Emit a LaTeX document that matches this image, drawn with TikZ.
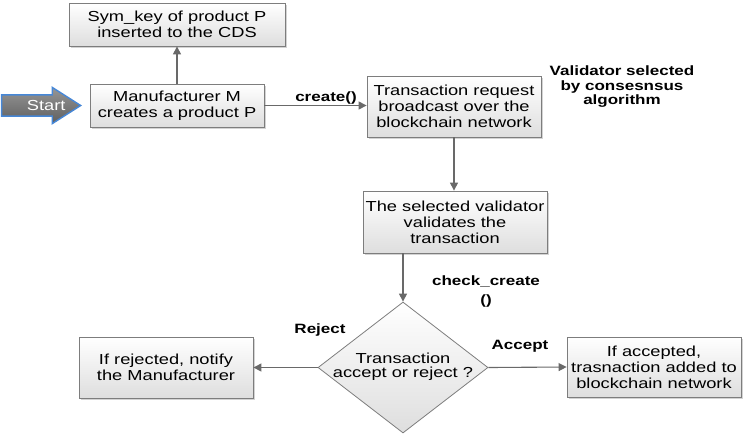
\documentclass[tikz,border=0pt]{standalone}
\usepackage{fontspec}
\setmainfont{Liberation Sans}[FakeStretch=1.26]
\usetikzlibrary{shapes.geometric,shapes.arrows,shadows,arrows.meta}
\definecolor{boxborder}{RGB}{125,125,125}
\definecolor{boxbottom}{RGB}{222,222,222}
\definecolor{conncol}{RGB}{105,105,105}
\definecolor{startblue}{RGB}{70,135,215}
\definecolor{starttop}{RGB}{150,150,150}
\definecolor{startbot}{RGB}{95,95,95}
\newcommand{\boxfont}{\fontsize{14.5}{16}\selectfont}
\newcommand{\lblfont}{\fontsize{13.5}{14.5}\selectfont\bfseries}
\tikzset{
  flowbox/.style={draw=boxborder, line width=0.8pt, top color=white, bottom color=boxbottom,
    drop shadow={shadow xshift=2pt, shadow yshift=-2pt, opacity=0.35},
    align=center, inner sep=0pt, font=\boxfont},
  decision/.style={diamond, draw=boxborder, line width=0.8pt, top color=white, bottom color=boxbottom,
    inner sep=0pt, font=\boxfont},
  conn/.style={draw=conncol, line width=1.1pt, -{Triangle[length=8pt,width=8pt]}},
  lbl/.style={font=\lblfont, align=center, inner sep=0pt},
  startarrow/.style={single arrow, draw=startblue, line width=1.4pt, top color=starttop, bottom color=startbot,
    text=white, font=\fontsize{14.5}{16}\selectfont, inner xsep=0pt, inner ysep=4.8pt,
    single arrow head extend=7.5pt, single arrow tip angle=65, minimum height=79pt},
}
\begin{document}
\begin{tikzpicture}[x=1pt,y=-1pt]
\useasboundingbox (0,0) rectangle (746,440);
\node[flowbox, minimum width=216pt, minimum height=43pt] (b1) at (177,24.5) {Sym\_key of product P\\inserted to the CDS};
\node[flowbox, minimum width=174pt, minimum height=43pt] (b2) at (177,105.5) {Manufacturer M\\creates a product P};
\node[startarrow, anchor=tip] (start) at (82,105.5) {\makebox[50pt][l]{\hspace{19pt}Start}};
\node[flowbox, minimum width=174pt, minimum height=61pt] (b3) at (454,106.5) {Transaction request\\broadcast over the\\blockchain network};
\node[flowbox, minimum width=184pt, minimum height=62pt] (b4) at (455,222) {The selected validator\\validates the\\transaction};
\node[decision, minimum width=170pt, minimum height=131pt] (dia) at (403,367.5)
  {\makebox[0pt]{\begin{tabular}{@{}c@{}}Transaction\\[-2pt]accept or reject ?\end{tabular}}};
\node[flowbox, minimum width=174pt, minimum height=61pt] (bl) at (166,367.5) {If rejected, notify\\the Manufacturer};
\node[flowbox, minimum width=174pt, minimum height=60pt] (br) at (654,367) {If accepted,\\trasnaction added to\\blockchain network};

\node[lbl] (lcreate) at (326,98) {create()};
\node[lbl] (lvalid) at (622,87) {Validator selected\\by consesnsus\\algorithm};
\node[lbl, font=\fontsize{13.5}{19}\selectfont\bfseries] (lcheck) at (486,292) {check\_create\\()};
\node[lbl] (lrej) at (320,330) {Reject};
\node[lbl] (lacc) at (520,346) {Accept};

\draw[conn] (b2.north) -- (b1.south);
\draw[conn] (b2.east) -- (b2.east -| b3.west);
\draw[conn] (b3.south) -- (b3.south |- b4.north);
\draw[conn] (dia.north |- b4.south) -- (dia.north);
\draw[conn] (dia.west) -- (bl.east);
\draw[conn] (dia.east) -- (br.west);
\end{tikzpicture}
\end{document}
